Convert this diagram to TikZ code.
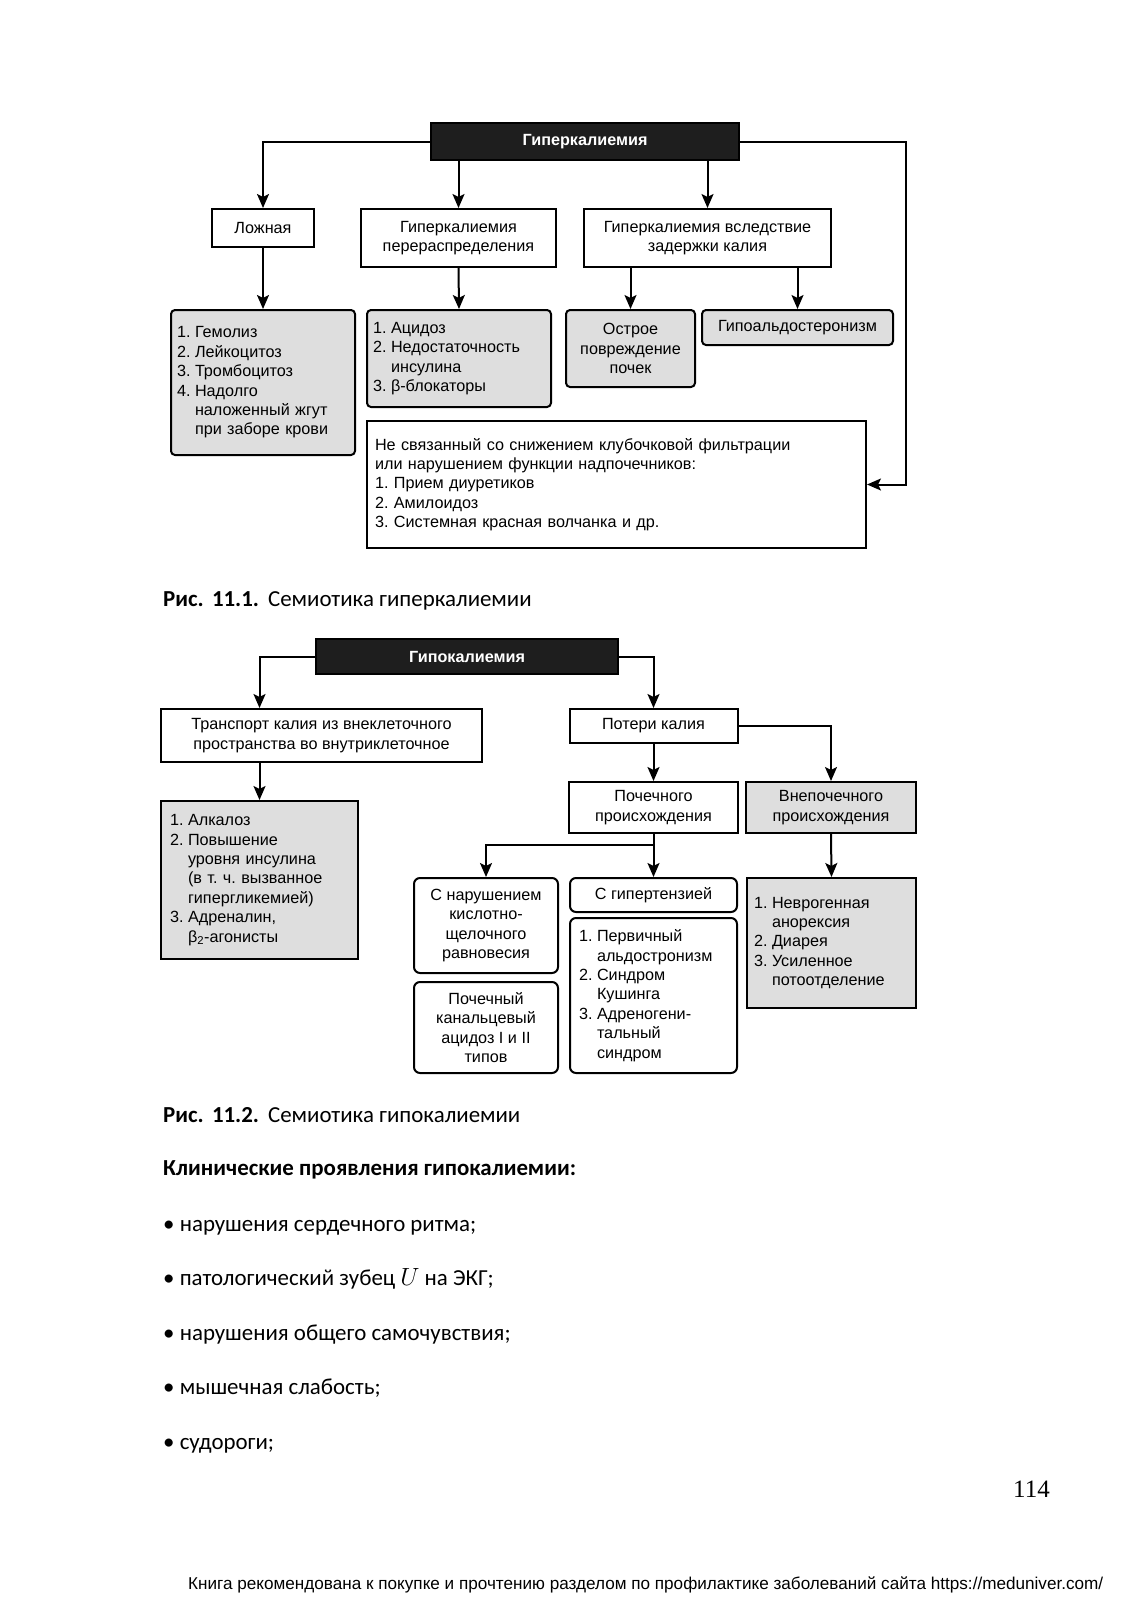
\documentclass[tikz,border=0pt]{standalone}
\usepackage{fontspec}
\setmainfont{Liberation Sans}
\newfontfamily\capf{Carlito}
\newfontfamily\pagef{Liberation Serif}
\usetikzlibrary{arrows.meta}
\definecolor{boxgray}{RGB}{222,222,222}
\definecolor{darkbox}{RGB}{30,30,30}
\newcommand{\dg}{\fontsize{16.2}{19.4}\selectfont}
\newcommand{\itm}[2]{\makebox[18pt][l]{#1}#2}
\newcommand{\cnt}[1]{\hspace*{18pt}#1}
\newcommand{\capsz}{\capf\fontsize{22.9}{27}\selectfont}
\frenchspacing
\begin{document}
\begin{tikzpicture}[x=1pt,y=-1pt,
 bx/.style={draw=black, line width=2pt, inner sep=0pt, align=center, font=\dg, fill=white},
 gbx/.style={bx, fill=boxgray},
 rnd/.style={rounded corners=4pt},
 topbx/.style={bx, fill=darkbox, text=white, font=\dg\bfseries},
 arr/.style={line width=2pt, -{Stealth[length=14pt,width=12pt,inset=3pt]}},
 txt/.style={anchor=base west, inner sep=0pt, font=\capsz},
]
\useasboundingbox (0,0) rectangle (1132,1600);
\fill[white] (0,0) rectangle (1132,1600);

% ---------- Figure 11.1 ----------
\node[topbx, minimum width=308pt, minimum height=36.5pt] (top1) at (585,141.75) {Гиперкалиемия};
\node[bx, minimum width=102pt, minimum height=38pt] (lozh) at (263,228) {Ложная};
\node[bx, minimum width=195pt, minimum height=58pt] (perer) at (458.5,238) {Гиперкалиемия\\перераспределения};
\node[bx, minimum width=247pt, minimum height=58pt] (zad) at (707.5,238) {Гиперкалиемия вследствие\\задержки калия};

\node[gbx, rnd, minimum width=184pt, minimum height=145pt, text width=172pt, align=left] (g1) at (263,382.5)
 {\itm{1.}{Гемолиз}\\\itm{2.}{Лейкоцитоз}\\\itm{3.}{Тромбоцитоз}\\\itm{4.}{Надолго}\\\cnt{наложенный жгут}\\\cnt{при заборе крови}\\[5pt]};
\node[gbx, rnd, minimum width=184pt, minimum height=97pt, text width=172pt, align=left] (g2) at (459,358.5)
 {\itm{1.}{Ацидоз}\\\itm{2.}{Недостаточность}\\\cnt{инсулина}\\\itm{3.}{β-блокаторы}};
\node[gbx, rnd, minimum width=129pt, minimum height=77pt] (ostr) at (630.5,348.5) {Острое\\повреждение\\почек};
\node[gbx, rnd, minimum width=191pt, minimum height=35pt] (gipo) at (797.5,327.5) {Гипоальдостеронизм};
\node[bx, minimum width=499pt, minimum height=127pt, text width=483pt, align=left] (nesv) at (616.5,484.5)
 {Не связанный со снижением клубочковой фильтрации\\или нарушением функции надпочечников:\\1. Прием диуретиков\\2. Амилоидоз\\3. Системная красная волчанка и др.};
\coordinate (rc) at (906,0);

\draw[arr] (top1.west) -| (lozh.north);
\draw[arr] (top1.south -| perer.north) -- (perer.north);
\draw[arr] (top1.south -| zad.north) -- (zad.north);
\draw[arr] (top1.east) -| (rc |- nesv.east) -- (nesv.east);
\draw[arr] (lozh.south) -- (g1.north);
\draw[arr] (perer.south) -- (g2.north);
\draw[arr] (zad.south -| ostr.north) -- (ostr.north);
\draw[arr] (zad.south -| gipo.north) -- (gipo.north);

\node[txt] (cap1) at (163,606.5) {\textbf{Рис.\hspace{3pt} 11.1.}\hspace{4pt} Семиотика гиперкалиемии};

% ---------- Figure 11.2 ----------
\node[topbx, minimum width=302pt, minimum height=35pt] (top2) at (467,656.5) {Гипокалиемия};
\node[bx, minimum width=321pt, minimum height=53pt] (trans) at (321.5,735.5) {Транспорт калия из внеклеточного\\пространства во внутриклеточное};
\node[bx, minimum width=168pt, minimum height=34pt] (poter) at (653.5,726) {Потери калия};
\node[gbx, minimum width=197pt, minimum height=158pt, text width=179pt, align=left] (alk) at (259.5,880)
 {\itm{1.}{Алкалоз}\\\itm{2.}{Повышение}\\\cnt{уровня инсулина}\\\cnt{(в т. ч. вызванное}\\\cnt{гипергликемией)}\\\itm{3.}{Адреналин,}\\\cnt{β\textsubscript{2}-агонисты}};
\node[bx, minimum width=169pt, minimum height=51pt] (poch) at (653.5,807.5) {Почечного\\происхождения};
\node[gbx, minimum width=170pt, minimum height=51pt] (vnep) at (831,807.5) {Внепочечного\\происхождения};
\node[bx, rounded corners=6pt, minimum width=144pt, minimum height=95pt] (nar) at (486,925.5) {С нарушением\\кислотно-\\щелочного\\равновесия};
\node[bx, rounded corners=6pt, minimum width=144pt, minimum height=91pt] (kan) at (486,1027.5) {Почечный\\канальцевый\\ацидоз I и II\\типов};
\node[bx, rounded corners=6pt, minimum width=167pt, minimum height=34pt] (gip) at (653.5,895) {С гипертензией};
\node[bx, rounded corners=6pt, minimum width=167pt, minimum height=155pt, text width=149pt, align=left] (lst) at (653.5,995.5)
 {\itm{1.}{Первичный}\\\cnt{альдостронизм}\\\itm{2.}{Синдром}\\\cnt{Кушинга}\\\itm{3.}{Адреногени-}\\\cnt{тальный}\\\cnt{синдром}};
\node[gbx, minimum width=169pt, minimum height=130pt, text width=155pt, align=left] (nev) at (831.5,943)
 {\itm{1.}{Неврогенная}\\\cnt{анорексия}\\\itm{2.}{Диарея}\\\itm{3.}{Усиленное}\\\cnt{потоотделение}\\[6pt]};
\coordinate (br) at (653.5,845);

\draw[arr] (top2.west) -| (trans.north -| alk.north);
\draw[arr] (top2.east) -| (poter.north);
\draw[arr] (trans.south -| alk.north) -- (alk.north);
\draw[arr] (poter.south) -- (poch.north);
\draw[arr] (poter.east) -| (vnep.north);
\draw[arr] (poch.south) |- (br -| nar.north) -- (nar.north);
\draw[arr] (poch.south) -- (gip.north);
\draw[arr] (vnep.south) -- (nev.north);

\node[txt] (cap2) at (163,1122) {\textbf{Рис.\hspace{3pt} 11.2.}\hspace{4pt} Семиотика гипокалиемии};
\node[txt] (head) at (163,1175) {\textbf{Клинические проявления гипокалиемии:}};
\node[txt] (b1) at (163,1231.5) {• нарушения сердечного ритма;};
\node[txt] (b2) at (163,1285.9) {• патологический зубец $U$ на ЭКГ;};
\node[txt] (b3) at (163,1340.3) {• нарушения общего самочувствия;};
\node[txt] (b4) at (163,1394.7) {• мышечная слабость;};
\node[txt] (b5) at (163,1449.1) {• судороги;};

\node[anchor=base east, inner sep=0pt, font=\pagef\fontsize{25}{30}\selectfont] (pg) at (1050,1497) {114};
\node[anchor=base west, inner sep=0pt] (ft) at (188,1589)
 {\resizebox{915pt}{!}{\fontsize{17.7}{20}\selectfont Книга рекомендована к покупке и прочтению разделом по профилактике заболеваний сайта https://meduniver.com/}};
\end{tikzpicture}
\end{document}
